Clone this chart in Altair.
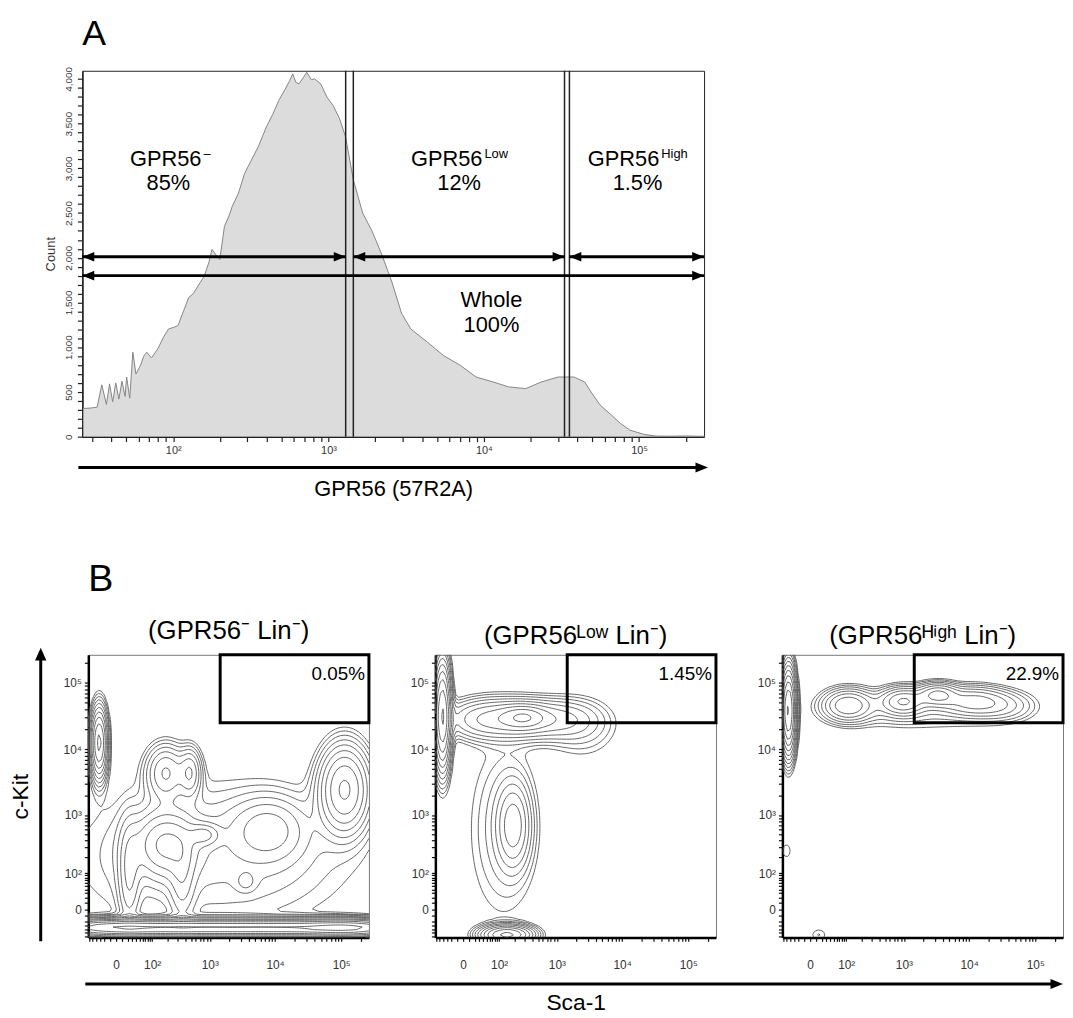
import numpy as np
import pandas as pd
import altair as alt

FONT = "Liberation Sans"

# ---------------- Panel A: GPR56 histogram ----------------
gpr56_log10 = [1.42, 1.47, 1.51, 1.54, 1.57, 1.59, 1.61, 1.63, 1.65, 1.67, 1.69, 1.70, 1.72, 1.74,
               1.76, 1.79, 1.81, 1.83, 1.86, 1.90, 1.94, 1.97, 2.00, 2.03, 2.07, 2.10, 2.13, 2.16,
               2.20, 2.23, 2.25, 2.28, 2.30, 2.33, 2.36, 2.38, 2.42, 2.46, 2.50, 2.55, 2.60, 2.64,
               2.68, 2.72, 2.75, 2.77, 2.79, 2.81, 2.84, 2.86, 2.89, 2.91, 2.95, 2.99, 3.03, 3.07,
               3.11, 3.16, 3.22, 3.28, 3.34, 3.41, 3.47, 3.53, 3.64, 3.74, 3.85, 3.95, 4.06, 4.16,
               4.27, 4.37, 4.48, 4.58, 4.65, 4.69, 4.75, 4.82, 4.88, 4.94, 5.03, 5.11, 5.20, 5.30,
               5.38, 5.42]
gpr56_count = [315, 320, 330, 580, 360, 590, 390, 600, 420, 620, 450, 667, 430, 944,
               700, 800, 900, 944, 880, 980, 1120, 1204, 1220, 1240, 1420, 1556, 1600, 1685,
               1796, 1950, 2093, 2020, 1980, 2352, 2470, 2574, 2720, 2944, 3080, 3250, 3463, 3600,
               3759, 3880, 3980, 4055, 3960, 3944, 4020, 4074, 3990, 4000, 3944, 3796, 3700, 3560,
               3350, 2870, 2500, 2300, 2050, 1720, 1380, 1204, 1052, 907, 796, 667, 611, 556,
               537, 611, 667, 667, 611, 500, 352, 244, 148, 74, 26, 7, 5, 8,
               5, 4]
assert len(gpr56_log10) == len(gpr56_count)

gate_lines = [1290, 1445, 33100, 35600]

# arrows (start, end, count level)
arrow_start = [26, 1445, 35600, 26]
arrow_end = [1290, 33100, 262144, 262144]
arrow_level = [2010, 2010, 2010, 1800]

# text annotations
main_labels = ["GPR56", "GPR56", "GPR56"]
main_anchor = [152, 9800, 135000]
sup_labels = ["\u2013", "Low", "High"]
pct_labels = ["85%", "12%", "1.5%", "Whole", "100%"]
pct_x = [93, 6940, 97700, 11200, 11200]
pct_y = [2760, 2760, 2760, 1444, 1174]

# ---------------- Panel B: contour clusters (Sca-1, c-Kit) ----------------
p1_sca1 = [-32, 185, 185, 487, 815, 112700, 7940, -31, 60, 464, 2484, 12610, 63360, 200440, 1225, 3608, 23, 360]
p1_ckit = [12600, 333, 4450, 4450, 487, 2480, 594, -35, -35, -35, -35, -35, -35, -35, 212, 63, 86, 60]
p1_sdx = [0.07, 0.28, 0.18, 0.10, 0.14, 0.22, 0.35, 0.4, 0.4, 0.4, 0.4, 0.4, 0.4, 0.4, 1.3, 0.1, 0.1, 0.12]
p1_sdy = [0.30, 0.30, 0.25, 0.22, 0.10, 0.38, 0.30, 0.07, 0.07, 0.07, 0.07, 0.07, 0.07, 0.07, 0.7, 0.1, 0.5, 0.4]
p1_w = [3.0, 1.2, 0.9, 0.8, 0.7, 2.0, 0.6, 4, 4, 4, 4, 4, 4, 4, 0.35, 0.25, 0.5, 0.5]

p2_sca1 = [-42, 40, 278, 1225, 285, 190, 143, 119, 2484]
p2_ckit = [31720, 28270, 28270, 28270, 30300, 688, -56, 594, 20000]
p2_sdx = [0.07, 0.35, 0.35, 0.35, 0.2, 0.15, 0.22, 0.35, 0.35]
p2_sdy = [0.45, 0.18, 0.18, 0.18, 0.1, 0.38, 0.08, 0.9, 0.3]
p2_w = [4.0, 0.8, 0.8, 0.5, 1.0, 1.0, 3.0, 0.25, 0.2]

p3_sca1 = [-45, 109, 964, 3288, 11230, 31720, -51, 14, 1552]
p3_ckit = [38160, 45880, 52700, 66360, 52700, 44840, 263, -56, 39960]
p3_sdx = [0.06, 0.22, 0.2, 0.18, 0.3, 0.3, 0.06, 0.1, 0.9]
p3_sdy = [0.35, 0.14, 0.12, 0.1, 0.13, 0.14, 0.1, 0.08, 0.2]
p3_w = [6.0, 1.2, 1.2, 1.3, 0.9, 0.4, 0.15, 0.15, 0.25]

panel_titles = ["(GPR56\u207b Lin\u207b)", "(GPR56\u1d38\u1d52\u02b7 Lin\u207b)", "(GPR56\u1d34\u2071\u1d4d\u02b0 Lin\u207b)"]
gate_pct = ["0.05%", "1.45%", "22.9%"]
gate_x = [1450, 262144]
gate_y = [25000, 262144]

# ---------------- helpers ----------------
C = 40.0
DOM = [-65, 262144]


def fwd(v):
    v = np.asarray(v, float)
    return np.sign(v) * np.log10(1 + np.abs(v) / C)


def inv(t):
    t = np.asarray(t, float)
    return np.sign(t) * C * (10 ** np.abs(t) - 1)


N = 110
gt = np.linspace(fwd(DOM[0]), fwd(DOM[1]), N)
GX, GY = np.meshgrid(gt, gt)


def density(cx, cy, sx, sy, w):
    Z = np.zeros_like(GX)
    for a, b, s1, s2, ww in zip(fwd(cx), fwd(cy), sx, sy, w):
        Z += ww * np.exp(-0.5 * (((GX - a) / s1) ** 2 + ((GY - b) / s2) ** 2))
    return Z


TABLE = {1: [(3, 0)], 2: [(0, 1)], 3: [(3, 1)], 4: [(1, 2)], 5: [(3, 0), (1, 2)], 6: [(0, 2)],
         7: [(3, 2)], 8: [(2, 3)], 9: [(0, 2)], 10: [(0, 1), (2, 3)], 11: [(1, 2)], 12: [(1, 3)],
         13: [(0, 1)], 14: [(0, 3)]}


def segments(Z, level):
    v00 = Z[:-1, :-1]; v10 = Z[:-1, 1:]; v11 = Z[1:, 1:]; v01 = Z[1:, :-1]
    shp = v00.shape
    x0 = np.broadcast_to(gt[:-1][None, :], shp); x1 = np.broadcast_to(gt[1:][None, :], shp)
    y0 = np.broadcast_to(gt[:-1][:, None], shp); y1 = np.broadcast_to(gt[1:][:, None], shp)

    def lerp(a, b, pa, pb):
        with np.errstate(divide="ignore", invalid="ignore"):
            t = (level - a) / (b - a)
        t = np.nan_to_num(t, nan=0.5, posinf=0.5, neginf=0.5)
        return pa + t * (pb - pa)

    e = [(lerp(v00, v10, x0, x1), y0), (x1, lerp(v10, v11, y0, y1)),
         (lerp(v01, v11, x0, x1), y1), (x0, lerp(v00, v01, y0, y1))]
    idx = (v00 > level) * 1 + (v10 > level) * 2 + (v11 > level) * 4 + (v01 > level) * 8
    out = []
    for case, pairs in TABLE.items():
        m = idx == case
        if not m.any():
            continue
        for a, b in pairs:
            out.append(np.column_stack([e[a][0][m], e[a][1][m], e[b][0][m], e[b][1][m]]))
    return np.vstack(out) if out else np.zeros((0, 4))


LEVELS = [0.1 * 10 ** (0.16 * k) for k in range(13)]


def contour_df(cx, cy, sx, sy, w):
    Z = density(cx, cy, sx, sy, w)
    segs = np.vstack([segments(Z, L) for L in LEVELS])
    vals = inv(segs)
    return pd.DataFrame({"xa": np.round(vals[:, 0], 2), "ya": np.round(vals[:, 1], 2),
                         "xb": np.round(vals[:, 2], 2), "yb": np.round(vals[:, 3], 2)})


# ---------------- Panel A chart ----------------
hist_df = pd.DataFrame({"gpr56": [10 ** v for v in gpr56_log10], "count": gpr56_count})
xA = alt.Scale(type="log", domain=[26, 262144], nice=False)
yA = alt.Scale(domain=[0, 4090], nice=False, zero=False)

a_xticks = [v * 10 ** k for k in range(1, 6) for v in range(1, 10) if 26 <= v * 10 ** k <= 262144]
a_yticks = list(range(0, 4001, 100))
sup_expr = ("datum.value == 0 ? '0' : datum.value == 100 ? '10\u00b2' : datum.value == 1000 ? '10\u00b3' : "
            "datum.value == 10000 ? '10\u2074' : datum.value == 100000 ? '10\u2075' : ''")

axA_x = alt.Axis(values=a_xticks, labelExpr=sup_expr, labelFont=FONT, labelFontSize=11,
                 labelColor="#333", tickColor="#222", domainColor="#222", domainWidth=1.5,
                 tickSize=5, tickWidth=1.2, labelOverlap=False, labelBound=False, grid=False, labelPadding=3,
                 title="GPR56 (57R2A)", titleFont=FONT, titleFontSize=22, titleFontWeight="normal",
                 titleColor="black", titlePadding=23)
axA_y = alt.Axis(values=a_yticks, labelExpr="datum.value % 500 == 0 ? format(datum.value, ',') : ''",
                 labelAngle=270, labelFont=FONT, labelFontSize=10, labelColor="#333",
                 tickColor="#222", domainColor="#222", domainWidth=1.5, tickSize=5, tickWidth=1.2,
                 labelOverlap=False, labelBound=False, grid=False, labelPadding=4,
                 title="Count", titleFont=FONT, titleFontSize=13, titleFontWeight="normal",
                 titleColor="#333", titlePadding=6)


def XA(field):
    return alt.X(field, scale=xA, axis=axA_x)


def YA(field):
    return alt.Y(field, scale=yA, axis=axA_y)


area = alt.Chart(hist_df).mark_area(color="#cdcdcd", line={"color": "#858585", "strokeWidth": 1}).encode(
    x=XA("gpr56:Q"), y=YA("count:Q"))

gate_df = pd.DataFrame({"g": gate_lines})
gates = alt.Chart(gate_df).mark_rule(color="#222", strokeWidth=1.5).encode(x=XA("g:Q"))

arr_df = pd.DataFrame({"s": arrow_start, "e": arrow_end, "lvl": arrow_level})
arr_lines = alt.Chart(arr_df).mark_rule(color="black", strokeWidth=3).encode(
    x=XA("s:Q"), x2="e:Q", y=YA("lvl:Q"))
RIGHT_HEAD = "M0,0L-2,-0.8L-2,0.8Z"
LEFT_HEAD = "M0,0L2,-0.8L2,0.8Z"
UP_HEAD = "M0,0L-0.9,2L0.9,2Z"
heads_r = alt.Chart(arr_df).mark_point(shape=RIGHT_HEAD, size=144, filled=True, color="black", opacity=1).encode(
    x=XA("e:Q"), y=YA("lvl:Q"))
heads_l = alt.Chart(arr_df).mark_point(shape=LEFT_HEAD, size=144, filled=True, color="black", opacity=1).encode(
    x=XA("s:Q"), y=YA("lvl:Q"))

lab_df = pd.DataFrame({"t": main_labels, "sup": sup_labels, "x": main_anchor, "y": [3020] * 3})
lab_main = alt.Chart(lab_df).mark_text(align="right", baseline="alphabetic", font=FONT, fontSize=22,
                                       color="black").encode(x=XA("x:Q"), y=YA("y:Q"), text="t:N")
lab_sup = alt.Chart(lab_df).mark_text(align="left", baseline="alphabetic", font=FONT, fontSize=13,
                                      color="black", dx=2, dy=-9).encode(x=XA("x:Q"), y=YA("y:Q"), text="sup:N")
pct_df = pd.DataFrame({"t": pct_labels, "x": pct_x, "y": pct_y})
lab_pct = alt.Chart(pct_df).mark_text(align="center", baseline="alphabetic", font=FONT, fontSize=22,
                                      color="black").encode(x=XA("x:Q"), y=YA("y:Q"), text="t:N")

A_W, A_H = 627, 369
one = pd.DataFrame({"k": [0]})
axis_arrow = alt.Chart(one).mark_rule(color="black", strokeWidth=3).encode(
    x=alt.value(-4), x2=alt.value(A_W - 4), y=alt.value(A_H + 31))
axis_head = alt.Chart(one).mark_point(shape=RIGHT_HEAD, size=160, filled=True, color="black",
                                      opacity=1).encode(x=alt.value(A_W + 4), y=alt.value(A_H + 31))

panelA = alt.layer(area, gates, arr_lines, heads_r, heads_l, lab_main, lab_sup, lab_pct,
                   axis_arrow, axis_head).properties(
    width=A_W, height=A_H,
    title=alt.TitleParams("A", anchor="start", frame="group", font=FONT, fontSize=36,
                          fontWeight="normal", color="black", offset=14, dx=0),
)

# ---------------- Panel B charts ----------------
b_ticks = ([-60, -50, -40, -30, -20, -10, 0] + list(range(10, 100, 10)) + list(range(100, 1000, 100))
           + list(range(1000, 10000, 1000)) + list(range(10000, 100000, 10000)) + [100000, 200000])
sB = alt.Scale(type="symlog", constant=C, domain=DOM, nice=False, zero=False)
B_W, B_H = 283, 285
SP = 67


def b_axis(title, is_x):
    return alt.Axis(values=b_ticks, labelExpr=sup_expr, labelFont=FONT, labelFontSize=12,
                    labelColor="#333", tickColor="#111", domainColor="black", domainWidth=2.5,
                    tickSize=4, tickWidth=1.2, labelOverlap=False, labelBound=False, grid=False,
                    labelPadding=18 if is_x else 3,
                    title=title, titleFont=FONT, titleFontSize=23, titleFontWeight="normal",
                    titleColor="black", titlePadding=22 if is_x else 31)


def make_panel(i, cdf, xtitle, ytitle, extra):
    ax_x = b_axis(xtitle, True)
    ax_y = b_axis(ytitle, False)
    lines = alt.Chart(cdf).mark_rule(color="#555555", strokeWidth=0.9).encode(
        x=alt.X("xa:Q", scale=sB, axis=ax_x),
        x2="xb:Q",
        y=alt.Y("ya:Q", scale=sB, axis=ax_y),
        y2="yb:Q",
    )
    gdf = pd.DataFrame({"x1": [gate_x[0]], "x2": [gate_x[1]], "y1": [gate_y[0]], "y2": [gate_y[1]],
                        "p": [gate_pct[i]]})
    gate = alt.Chart(gdf).mark_rect(filled=False, stroke="black", strokeWidth=3).encode(
        x=alt.X("x1:Q", scale=sB, axis=ax_x), x2="x2:Q", y=alt.Y("y1:Q", scale=sB, axis=ax_y), y2="y2:Q")
    pct = alt.Chart(gdf).mark_text(align="right", baseline="top", dx=-4, dy=10, font=FONT, fontSize=19,
                                   color="black").encode(
        x=alt.X("x2:Q", scale=sB, axis=ax_x), y=alt.Y("y2:Q", scale=sB, axis=ax_y), text="p:N")
    return alt.layer(lines, gate, pct, *extra).properties(
        width=B_W, height=B_H,
        view=alt.ViewBackground(stroke="#777", strokeWidth=1),
        title=alt.TitleParams(panel_titles[i], font=FONT, fontSize=26, fontWeight="normal",
                              color="black", offset=4),
    )


ckit_arrow = alt.Chart(one).mark_rule(color="black", strokeWidth=3).encode(
    x=alt.value(-48), y=alt.value(3), y2=alt.value(B_H + 4))
ckit_head = alt.Chart(one).mark_point(shape=UP_HEAD, size=160, filled=True, color="black", opacity=1).encode(
    x=alt.value(-48), y=alt.value(-7))
sca_arrow = alt.Chart(one).mark_rule(color="black", strokeWidth=3).encode(
    x=alt.value(-(B_W + SP) - 3), x2=alt.value(B_W + SP + B_W - 8), y=alt.value(B_H + 47))
sca_head = alt.Chart(one).mark_point(shape=RIGHT_HEAD, size=160, filled=True, color="black", opacity=1).encode(
    x=alt.value(B_W + SP + B_W), y=alt.value(B_H + 47))

p1 = make_panel(0, contour_df(p1_sca1, p1_ckit, p1_sdx, p1_sdy, p1_w), None, "c-Kit", [ckit_arrow, ckit_head])
p2 = make_panel(1, contour_df(p2_sca1, p2_ckit, p2_sdx, p2_sdy, p2_w), "Sca-1", None, [sca_arrow, sca_head])
p3 = make_panel(2, contour_df(p3_sca1, p3_ckit, p3_sdx, p3_sdy, p3_w), None, None, [])

rowB = alt.hconcat(p1, p2, p3, spacing=SP, bounds="flush").properties(
    title=alt.TitleParams("B", anchor="start", frame="group", font=FONT, fontSize=38,
                          fontWeight="normal", color="black", offset=19))

# thin invisible spacer that shifts row B a few pixels to the right of row A
spacer = alt.Chart(one).mark_point(opacity=0).encode(x=alt.value(0), y=alt.value(0)).properties(
    width=6, height=1, view=alt.ViewBackground(strokeOpacity=0, strokeWidth=0))
rowB_shifted = alt.hconcat(spacer, rowB, spacing=0, bounds="flush")

chart = alt.vconcat(panelA, rowB_shifted, spacing=220, bounds="flush").properties(
    padding={"left": 0, "top": 3, "right": 0, "bottom": 0}
).configure_view(stroke="#222", strokeWidth=1)

chart.save("out.html", embed_options={"renderer": "svg", "actions": False})
